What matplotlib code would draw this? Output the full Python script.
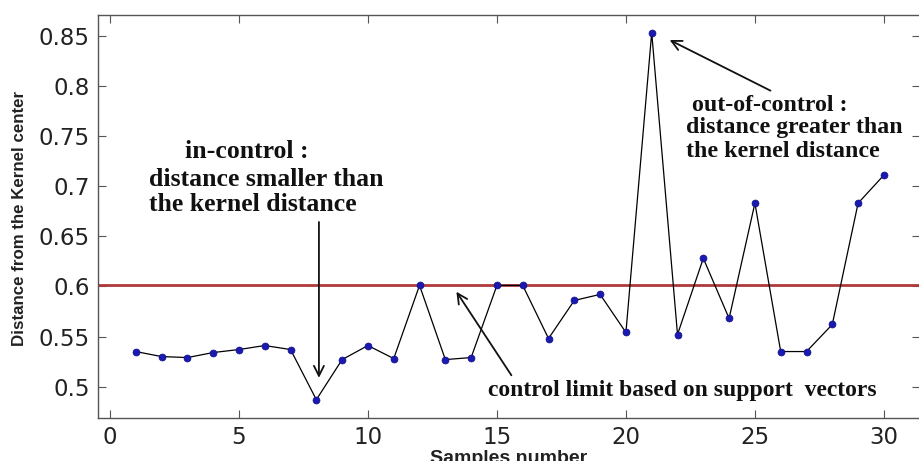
import matplotlib
matplotlib.use("Agg")
import matplotlib.pyplot as plt
from matplotlib.ticker import FixedLocator, FuncFormatter

# Distance of each sample from the kernel (SVDD) center
samples = list(range(1, 31))
distance = [0.535, 0.530, 0.529, 0.534, 0.537, 0.541, 0.537, 0.487, 0.527, 0.541,
            0.528, 0.601, 0.527, 0.529, 0.601, 0.601, 0.548, 0.586, 0.592, 0.554,
            0.853, 0.552, 0.628, 0.568, 0.683, 0.535, 0.535, 0.562, 0.683, 0.711]
control_limit = 0.601

x_ticks = [0, 5, 10, 15, 20, 25, 30]
y_ticks = [0.5, 0.55, 0.6, 0.65, 0.7, 0.75, 0.8, 0.85]

fig = plt.figure(figsize=(9.19, 4.61), dpi=100)
ax = fig.add_axes([0.1066, 0.0939, 0.8945, 0.8742])

ax.axhline(control_limit, color="#b03a3a", lw=2.0, zorder=2)
ax.plot(samples, distance, color="black", lw=0.9, zorder=3)
ax.plot(samples, distance, "o", color="#1a1ab0", ms=5.0, mec="#10108a",
        mew=0.5, zorder=4, linestyle="none")

ax.set_xlim(-0.465, 31.4)
ax.set_ylim(0.469, 0.871)
ax.xaxis.set_major_locator(FixedLocator(x_ticks))
ax.yaxis.set_major_locator(FixedLocator(y_ticks))
ax.yaxis.set_major_formatter(FuncFormatter(lambda v, p: f"{v:.2f}".rstrip("0")))
ax.tick_params(direction="in", top=True, right=True, length=6, width=0.8,
               color="#555555", labelsize=16.5, pad=6, labelcolor="#222222")
for lab in ax.get_xticklabels() + ax.get_yticklabels():
    lab.set_family("DejaVu Sans")
for s in ax.spines.values():
    s.set_color("#555555")
    s.set_linewidth(1.0)

ax.set_ylabel("Distance from the Kernel center", family="Liberation Sans",
              fontsize=12.2, fontweight="bold", color="#222222")
ax.yaxis.set_label_coords(-0.0864, 0.494)
fig.text(0.553, 1 - 450 / 461, "Samples number", family="Liberation Sans",
         fontsize=14, fontweight="bold", color="#222222", ha="center", va="top")

arrow = dict(arrowstyle="->", lw=1.3, color="#111111", mutation_scale=18)


def note(x, y, s, size):
    ax.text(x, y, s, ha="left", va="baseline", family="Liberation Serif",
            fontweight="bold", fontsize=size, color="#111111")


# in-control annotation
note(2.91, 0.7282, "in-control :", 18.5)
note(1.51, 0.7006, "distance smaller than", 18.5)
note(1.51, 0.6747, "the kernel distance", 18.5)
ax.annotate("", xy=(8.1, 0.506), xytext=(8.1, 0.667), arrowprops=arrow)

# out-of-control annotation
note(22.56, 0.7754, "out-of-control :", 17.2)
note(22.33, 0.7529, "distance greater than", 17.2)
note(22.33, 0.7289, "the kernel distance", 17.2)
ax.annotate("", xy=(21.6, 0.847), xytext=(25.7, 0.794), arrowprops=arrow)

# control limit annotation
note(14.65, 0.4910, "control limit based on support  vectors", 17.0)
ax.annotate("", xy=(13.37, 0.597), xytext=(15.62, 0.509), arrowprops=arrow)

fig.savefig("out.png", dpi=100)
